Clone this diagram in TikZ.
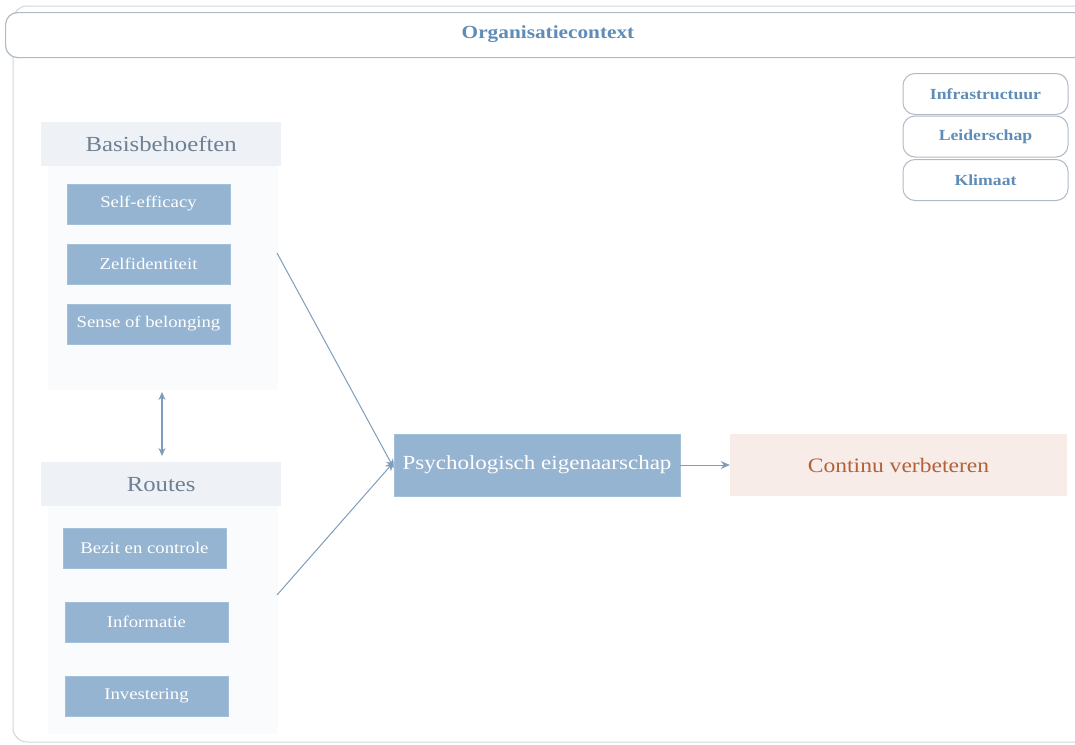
\documentclass[tikz,border=0pt]{standalone}
\usepackage{fontspec}
\setmainfont[FakeStretch=1.15]{Liberation Serif}
\usetikzlibrary{arrows.meta}
\definecolor{frameline}{RGB}{176,186,198}
\definecolor{titleblue}{RGB}{95,141,184}
\definecolor{hdrfill}{RGB}{238,242,246}
\definecolor{hdrtext}{RGB}{110,128,148}
\definecolor{bodyfill}{RGB}{250,251,253}
\definecolor{boxfill}{RGB}{148,180,209}
\definecolor{linkcol}{RGB}{127,157,186}
\definecolor{outfill}{RGB}{248,236,232}
\definecolor{outtext}{RGB}{176,98,58}
\tikzset{
  itembox/.style={fill=boxfill, draw=boxfill!85!white, minimum width=163pt, minimum height=40pt, inner sep=0pt, text=white, font=\fontsize{16.3}{18}\selectfont},
  hdrbox/.style={fill=hdrfill, minimum width=240pt, minimum height=44pt, inner sep=0pt, text=hdrtext, font=\fontsize{21.5}{24}\selectfont},
  bodybox/.style={fill=bodyfill, inner sep=0pt},
  ctxbox/.style={draw=frameline, line width=1pt, fill=white, rounded corners=12pt, minimum width=165pt, minimum height=41pt, inner sep=0pt, text=titleblue, font=\bfseries\fontsize{15.4}{17}\selectfont},
  link/.style={draw=linkcol, line width=1pt, -{Stealth[length=9pt,width=8pt]}},
  dlink/.style={draw=linkcol, line width=1.2pt, {Stealth[length=8pt,width=7pt]}-{Stealth[length=8pt,width=7pt]}},
}
\begin{document}
\begin{tikzpicture}[x=1pt,y=-1pt]
\useasboundingbox (0,0) rectangle (1075,744);
\fill[white] (0,0) rectangle (1075,744);
% outer frame
\draw[frameline!60, line width=1pt, rounded corners=14pt] (13,6) -- (1090,6) -- (1090,742) -- (13,742) -- cycle;
\node[draw=frameline, line width=1.2pt, fill=white, rounded corners=12pt, minimum width=1080pt, minimum height=45pt, inner sep=0pt, anchor=north west] (ctx) at (5,12) {};
\node[text=titleblue, font=\bfseries\fontsize{18.5}{20}\selectfont] (ctxlabel) at (548,34) {Organisatiecontext};
% context boxes
\node[ctxbox] (infra) at (985.5,94) {Infrastructuur};
\node[ctxbox] (leid) at (985.5,136.5) {Leiderschap};
\node[ctxbox] (klim) at (985.5,180) {Klimaat};
% Basisbehoeften
\node[bodybox, minimum width=230pt, minimum height=224pt, anchor=north west] (bbody) at (48,166) {};
\node[hdrbox, anchor=north west] (bhdr) at (41,122) {Basisbehoeften};
\node[itembox] (self) at (148.5,204) {Self-efficacy};
\node[itembox] (zelf) at (148.5,264) {Zelfidentiteit};
\node[itembox] (sense) at (148.5,324) {Sense of belonging};
% Routes
\node[bodybox, minimum width=230pt, minimum height=228pt, anchor=north west] (rbody) at (48,506) {};
\node[hdrbox, anchor=north west] (rhdr) at (41,462) {Routes};
\node[itembox] (bezit) at (144.5,548) {Bezit en controle};
\node[itembox] (info) at (146.5,622) {Informatie};
\node[itembox] (inv) at (146.5,696) {Investering};
% central
\node[fill=boxfill, draw=boxfill!85!white, minimum width=286pt, minimum height=62pt, inner sep=0pt, text=white, font=\fontsize{20}{22}\selectfont] (psy) at (537,465) {Psychologisch eigenaarschap};
\node[fill=outfill, minimum width=337pt, minimum height=62pt, inner sep=0pt, text=outtext, font=\fontsize{20.5}{22}\selectfont] (cont) at (898.5,465) {Continu verbeteren};
% connectors
\coordinate (bout) at (277,253);
\coordinate (rout) at (277,595);
\coordinate (dtop) at (162,392);
\coordinate (dbot) at (162,456);
\draw[link] (bout) -- ([yshift=-3pt]psy.west);
\draw[link] (rout) -- ([yshift=3pt]psy.west);
\draw[link] (psy.east) -- (cont.west);
\draw[dlink] (dtop) -- (dbot);
\end{tikzpicture}
\end{document}
